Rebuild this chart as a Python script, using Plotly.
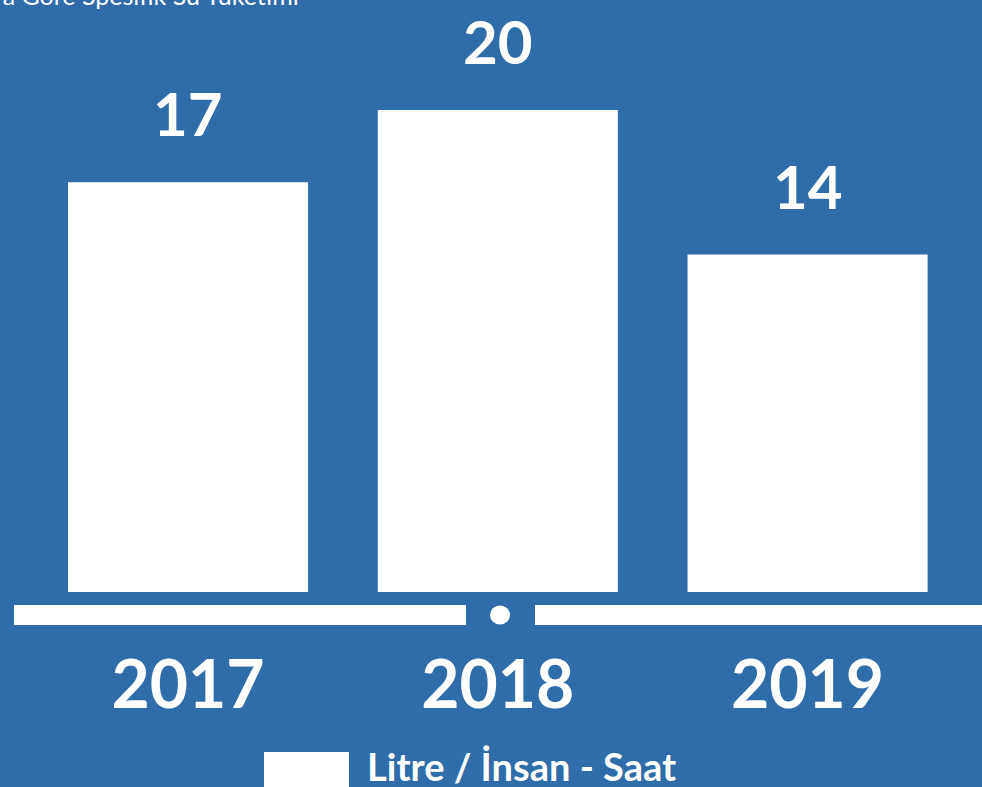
import plotly.graph_objects as go

BG = "rgb(46,108,170)"
WHITE = "#ffffff"

years = ["2017", "2018", "2019"]
values = [17, 20, 14]
series_name = "Litre / İnsan - Saat"
title_text = "Yıllara Göre Spesifik Su Tüketimi"

FONT = "Lato, 'Open Sans', sans-serif"

fig = go.Figure()
fig.add_trace(go.Bar(
    x=years, y=values,
    name=series_name,
    marker=dict(color=WHITE, line=dict(width=0)),
    width=0.775,
    showlegend=False,
    hoverinfo="x+y",
))

# value labels above the bars (category index, so "2017" isn't read as a number)
for i, v in enumerate(values):
    fig.add_annotation(
        x=i, y=v, text=str(v), showarrow=False,
        xanchor="center", yanchor="bottom", yshift=31,
        font=dict(family=FONT, size=60, color=WHITE, weight=700),
    )

# decorative baseline with a dot in the middle
shapes = [
    dict(type="rect", xref="paper", yref="paper", x0=14 / 982, x1=466 / 982,
         y0=-10 / 615, y1=10 / 615, fillcolor=WHITE, line=dict(width=0), layer="below"),
    dict(type="rect", xref="paper", yref="paper", x0=535 / 982, x1=1.02,
         y0=-10 / 615, y1=10 / 615, fillcolor=WHITE, line=dict(width=0), layer="below"),
    dict(type="circle", xref="paper", yref="paper", x0=490 / 982, x1=510 / 982,
         y0=-9.5 / 615, y1=9.5 / 615, fillcolor=WHITE, line=dict(width=0), layer="below"),
    # legend swatch
    dict(type="rect", xref="paper", yref="paper", x0=264 / 982, x1=349 / 982,
         y0=-(787 - 615) / 615 - 0.01, y1=-(752 - 615) / 615, fillcolor=WHITE,
         line=dict(width=0), layer="below"),
]

fig.add_annotation(
    xref="paper", yref="paper", x=365 / 982, y=-(787 - 615) / 615,
    xanchor="left", yanchor="bottom", yshift=-4,
    text=series_name, showarrow=False,
    font=dict(family=FONT, size=38, color=WHITE, weight=700),
)

fig.add_annotation(
    xref="paper", yref="paper", x=301 / 982, y=1 - 12 / 615,
    xanchor="right", yanchor="bottom",
    text=title_text, showarrow=False,
    font=dict(family=FONT, size=25, color=WHITE),
)

fig.update_layout(
    width=982, height=787,
    paper_bgcolor=BG, plot_bgcolor=BG,
    margin=dict(l=0, r=0, t=0, b=172),
    shapes=shapes,
    xaxis=dict(
        type="category", range=[-0.607, 2.563],
        showgrid=False, zeroline=False, showline=False, ticks="",
        tickfont=dict(family=FONT, size=66, color=WHITE, weight=700),
        ticklabelstandoff=26,
    ),
    yaxis=dict(
        range=[-0.954, 24.56], visible=False,
        showgrid=False, zeroline=False,
    ),
    bargap=0.2,
)

fig.write_html(
    "out.html",
    config={"displayModeBar": False},
    post_script="document.body.style.margin='0';document.body.style.background='" + BG + "';",
)
